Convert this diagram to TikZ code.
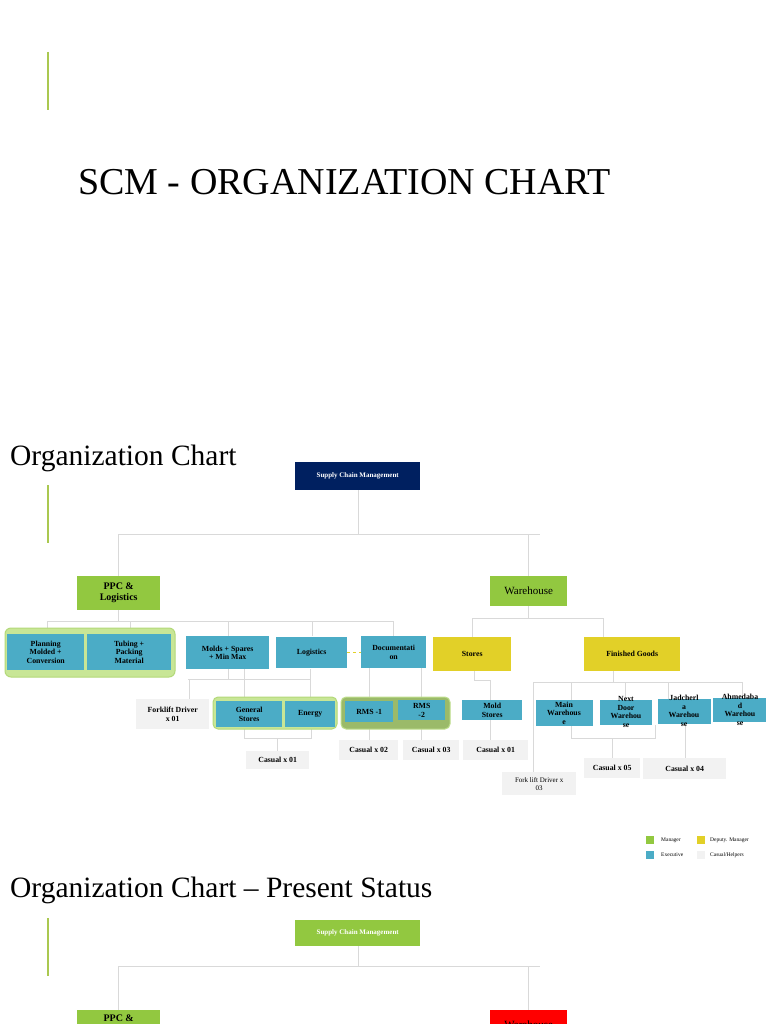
\documentclass[tikz,border=0pt]{standalone}
\usepackage{fontspec}
\setmainfont{Liberation Serif}
\begin{document}
\begin{tikzpicture}[x=1pt,y=-1pt,
  box/.style={minimum width=#1,inner sep=1pt,align=center,font=\bfseries\fontsize{7.8}{8.5}\selectfont,anchor=north west},
  lbl/.style={font=\bfseries\fontsize{7.8}{8.5}\selectfont,align=center},
  ln/.style={draw=black!15,line width=0.6pt}]
\definecolor{navy}{RGB}{0,32,96}\definecolor{mgr}{RGB}{146,200,64}\definecolor{exe}{RGB}{75,172,198}
\definecolor{dep}{RGB}{226,208,40}\definecolor{cas}{RGB}{242,242,242}\definecolor{bar}{RGB}{170,200,80}
\definecolor{grp}{RGB}{200,230,150}
\useasboundingbox (0,0) rectangle (768,1024);
\fill[white] (0,0) rectangle (768,1024);
\foreach \y in {52,485,918} \draw[bar,line width=1.2pt] (48,\y) -- (48,\y+58);
\node[anchor=west,font=\fontsize{38}{40}\selectfont,inner sep=0] (t1) at (78,182) {SCM - ORGANIZATION CHART};
\node[anchor=west,font=\fontsize{29.5}{32}\selectfont,inner sep=0] (t2) at (10,458) {Organization Chart};
\node[anchor=west,font=\fontsize{29.5}{32}\selectfont,inner sep=0] (t3) at (10,890) {Organization Chart – Present Status};
% connectors
\draw[ln] (358,490) -- (358,534) (118,534) -- (540,534) (118,534)--(118,576) (528,534)--(528,576);
\draw[ln] (118,610)--(118,621) (47,621)--(393,621);
\foreach \x in {47,130,228,312,393} \draw[ln] (\x,621)--(\x,636);
\draw[ln] (528,606)--(528,618) (472,618)--(603,618) (472,618)--(472,637) (603,618)--(603,637);
\draw[ln] (188,679)--(310,679) (189,679)--(189,699) (244,669)--(244,701) (310,669)--(310,697) (228,669)--(228,679);
\draw[ln] (244,727)--(244,738)--(311,738)--(311,727) (277,738)--(277,751);
\draw[ln] (369,668)--(369,740) (421,668)--(421,740) (474,671)--(474,680)--(490,680)--(490,700) (490,720)--(490,740);
\draw[ln] (613,671)--(613,682) (533,682)--(742,682) (533,682)--(533,772);
\foreach \x in {571,625,668,742} \draw[ln] (\x,682)--(\x,700);
\draw[ln] (571,726)--(571,738)--(655,738)--(655,725) (612,738)--(612,758) (685,724)--(685,758);
\draw[dep,dashed,line width=0.7pt] (347,652)--(361,652);
% groups
\draw[fill=grp,draw=mgr!70,rounded corners=6pt,line width=1pt] (5,628) rectangle (175,677);
\draw[fill=grp,draw=mgr!70,rounded corners=5pt,line width=1pt] (213,697) rectangle (337,729);
\draw[fill=mgr!60!black!40!grp,draw=mgr!60,rounded corners=5pt,line width=1pt] (341,697) rectangle (450,729);
% boxes
\node[box=125pt,minimum height=28pt,fill=navy,text=white,font=\bfseries\fontsize{7}{8}\selectfont] (scm) at (295,462) {Supply Chain Management};
\node[box=83pt,minimum height=34pt,fill=mgr,font=\bfseries\fontsize{10}{11}\selectfont] (ppc) at (77,576) {PPC \&\\Logistics};
\node[box=77pt,minimum height=30pt,fill=mgr,font=\fontsize{11}{12}\selectfont] (wh) at (490,576) {Warehouse};
\node[box=77pt,minimum height=36pt,fill=exe] (pl) at (7,634) {Planning\\Molded +\\Conversion};
\node[box=84pt,minimum height=36pt,fill=exe] (tu) at (87,634) {Tubing +\\Packing\\Material};
\node[box=83pt,minimum height=33pt,fill=exe] (mo) at (186,636) {Molds + Spares\\+ Min Max};
\node[box=71pt,minimum height=31pt,fill=exe] (lo) at (276,637) {Logistics};
\node[box=65pt,minimum height=32pt,fill=exe] (doc) at (361,636) {Documentati\\on};
\node[box=78pt,minimum height=34pt,fill=dep] (st) at (433,637) {Stores};
\node[box=96pt,minimum height=34pt,fill=dep] (fg) at (584,637) {Finished Goods};
\node[box=73pt,minimum height=30pt,fill=cas] (fd) at (136,699) {Forklift Driver\\x 01};
\node[box=66pt,minimum height=26pt,fill=exe] (gs) at (216,701) {General\\Stores};
\node[box=50pt,minimum height=26pt,fill=exe] (en) at (285,701) {Energy};
\node[box=48pt,minimum height=21pt,fill=exe] (r1) at (345,701) {RMS -1};
\node[box=47pt,minimum height=20pt,fill=exe] (r2) at (398,700) {RMS\\-2};
\node[box=60pt,minimum height=20pt,fill=exe] (ms) at (462,700) {Mold\\Stores};
\node[box=63pt,minimum height=18pt,fill=cas] (c1) at (246,751) {Casual x 01};
\node[box=59pt,minimum height=20pt,fill=cas] (c2) at (339,740) {Casual x 02};
\node[box=56pt,minimum height=20pt,fill=cas] (c3) at (403,740) {Casual x 03};
\node[box=65pt,minimum height=20pt,fill=cas] (c4) at (463,740) {Casual x 01};
\node[box=57pt,minimum height=26pt,fill=exe] (mw) at (536,700) {};
\node[lbl] at (564,713) {Main\\Warehous\\e};
\node[box=52pt,minimum height=25pt,fill=exe] (nd) at (600,700) {};
\node[lbl] at (626,712) {Next\\Door\\Warehou\\se};
\node[box=53pt,minimum height=25pt,fill=exe] (ja) at (658,699) {};
\node[lbl] at (684,711) {Jadcherl\\a\\Warehou\\se};
\node[box=53pt,minimum height=24pt,fill=exe] (ah) at (713,698) {};
\node[lbl] at (740,710) {Ahmedaba\\d\\Warehou\\se};
\node[box=74pt,minimum height=23pt,fill=cas,font=\fontsize{7}{8}\selectfont] (fl) at (502,772) {Fork lift Driver x\\03};
\node[box=56pt,minimum height=20pt,fill=cas] (c5) at (584,758) {Casual x 05};
\node[box=83pt,minimum height=21pt,fill=cas] (c6) at (643,758) {Casual x 04};
% legend
\fill[mgr] (646,836) rectangle (654,844); \fill[dep] (697,836) rectangle (705,844);
\fill[exe] (646,851) rectangle (654,859); \fill[cas] (697,851) rectangle (705,859);
\node[anchor=west,font=\fontsize{5.5}{6}\selectfont,inner sep=0] (l1) at (661,840) {Manager};
\node[anchor=west,font=\fontsize{5.5}{6}\selectfont,inner sep=0] (l2) at (710,840) {Deputy. Manager};
\node[anchor=west,font=\fontsize{5.5}{6}\selectfont,inner sep=0] (l3) at (661,855) {Executive};
\node[anchor=west,font=\fontsize{5.5}{6}\selectfont,inner sep=0] (l4) at (710,855) {Casual/Helpers};
% present status
\draw[ln] (358,946)--(358,966) (118,966)--(540,966) (118,966)--(118,1010) (528,966)--(528,1010);
\node[box=125pt,minimum height=26pt,fill=mgr,text=white,font=\bfseries\fontsize{7}{8}\selectfont] (scm2) at (295,920) {Supply Chain Management};
\node[box=83pt,minimum height=30pt,fill=mgr,font=\bfseries\fontsize{10}{11}\selectfont,anchor=north west] (ppc2) at (77,1010) {PPC \&\\Logistics};
\node[box=77pt,minimum height=30pt,fill=red,font=\fontsize{11}{12}\selectfont] (wh2) at (490,1010) {Warehouse};
\end{tikzpicture}
\end{document}
